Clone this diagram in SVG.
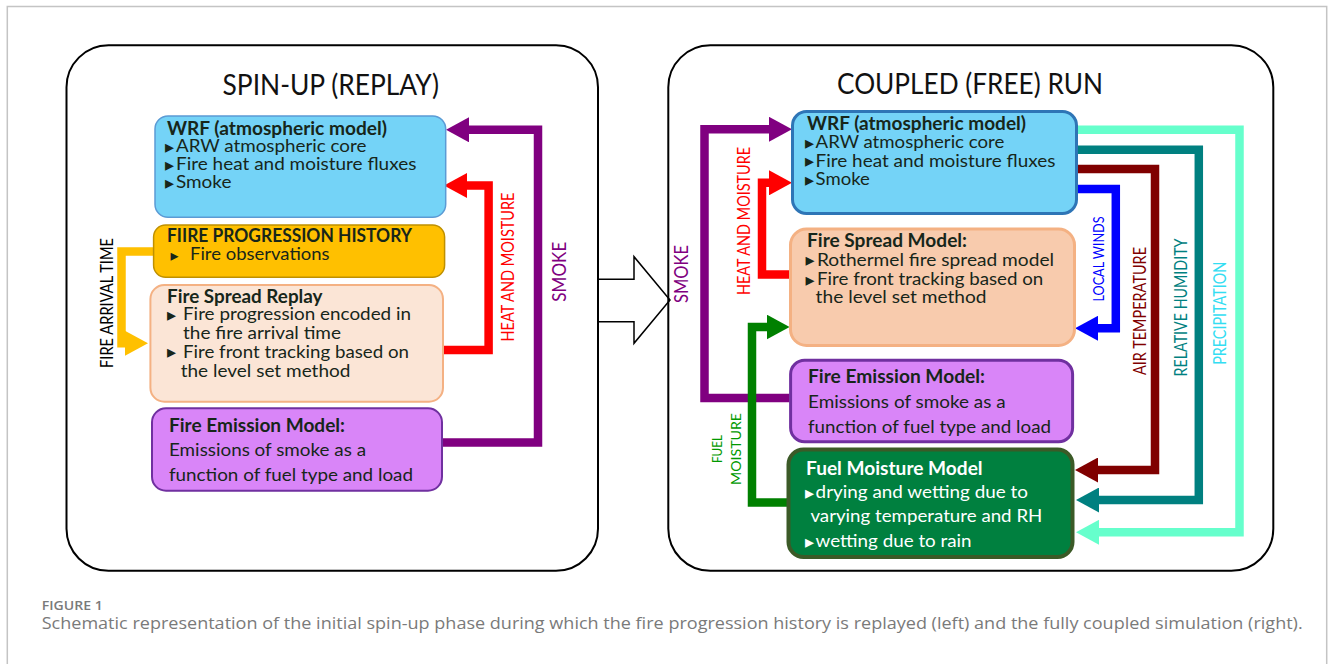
<svg xmlns="http://www.w3.org/2000/svg" width="1333" height="664" viewBox="0 0 1333 664">
<style>
.t{font-family:Lato,'Open Sans',sans-serif;font-size:18px;fill:#17261a}
.b{font-weight:700}
.w{fill:#ffffff}
.bul{font-family:'DejaVu Sans',sans-serif;font-size:18px;fill:#17261a}
.bulw{font-family:'DejaVu Sans',sans-serif;font-size:18px;fill:#ffffff}
.ttl{font-family:Lato,'Open Sans',sans-serif;font-size:28px;fill:#111111}
.lbl{font-family:Lato,'Open Sans',sans-serif;font-size:17px;text-anchor:middle}
.panel{fill:none;stroke:#000000;stroke-width:2}
.conn path{fill:none;stroke-width:8.5;stroke-linejoin:miter;stroke-linecap:butt}
.cap{font-family:'Open Sans','Liberation Sans',sans-serif;fill:#7a7a7a}
</style>
<defs>
<marker id="hY" markerUnits="userSpaceOnUse" markerWidth="23" markerHeight="25" viewBox="0 0 23 25" refX="2" refY="12.5" orient="auto"><path d="M0,0 L23,12.5 L0,25 z" fill="#FFC000"/></marker>
<marker id="hR" markerUnits="userSpaceOnUse" markerWidth="23" markerHeight="25" viewBox="0 0 23 25" refX="2" refY="12.5" orient="auto"><path d="M0,0 L23,12.5 L0,25 z" fill="#FF0000"/></marker>
<marker id="hP" markerUnits="userSpaceOnUse" markerWidth="23" markerHeight="25" viewBox="0 0 23 25" refX="2" refY="12.5" orient="auto"><path d="M0,0 L23,12.5 L0,25 z" fill="#800080"/></marker>
<marker id="hG" markerUnits="userSpaceOnUse" markerWidth="23" markerHeight="25" viewBox="0 0 23 25" refX="2" refY="12.5" orient="auto"><path d="M0,0 L23,12.5 L0,25 z" fill="#008000"/></marker>
<marker id="hB" markerUnits="userSpaceOnUse" markerWidth="23" markerHeight="25" viewBox="0 0 23 25" refX="2" refY="12.5" orient="auto"><path d="M0,0 L23,12.5 L0,25 z" fill="#0000FF"/></marker>
<marker id="hM" markerUnits="userSpaceOnUse" markerWidth="23" markerHeight="25" viewBox="0 0 23 25" refX="2" refY="12.5" orient="auto"><path d="M0,0 L23,12.5 L0,25 z" fill="#800000"/></marker>
<marker id="hT" markerUnits="userSpaceOnUse" markerWidth="23" markerHeight="25" viewBox="0 0 23 25" refX="2" refY="12.5" orient="auto"><path d="M0,0 L23,12.5 L0,25 z" fill="#008080"/></marker>
<marker id="hA" markerUnits="userSpaceOnUse" markerWidth="23" markerHeight="25" viewBox="0 0 23 25" refX="2" refY="12.5" orient="auto"><path d="M0,0 L23,12.5 L0,25 z" fill="#66FFCC"/></marker>
</defs>
<rect width="1333" height="664" fill="#ffffff"/>
<path d="M7.3,664 V6.5 H1326.7 V664" fill="none" stroke="#c4c4c4" stroke-width="1.5"/>

<g id="transition-arrow">
<path d="M598,279.3 H634 V256.7 L670,300 L634,343.3 V321.7 H598" fill="#ffffff" stroke="#000000" stroke-width="1.5" stroke-linejoin="miter"/>
</g>

<g id="panel-spinup">
<rect class="panel" x="66.5" y="45.3" width="531.5" height="525.5" rx="42"/>
<text class="ttl" x="222.5" y="94.5" textLength="216.5" lengthAdjust="spacingAndGlyphs">SPIN-UP (REPLAY)</text>
</g>
<g id="panel-coupled">
<rect class="panel" x="668.3" y="45.3" width="605" height="525.5" rx="42"/>
<text class="ttl" x="837" y="93.8" textLength="266" lengthAdjust="spacingAndGlyphs">COUPLED (FREE) RUN</text>
</g>

<g class="conn" id="connectors">
<path d="M154,251.5 H121.5 V343.3 H127" stroke="#FFC000" stroke-width="8" marker-end="url(#hY)"/>
<path d="M443,350 H488.6 V185.5 H465" stroke="#FF0000" marker-end="url(#hR)"/>
<path d="M442,442.5 H538 V129.8 H467" stroke="#800080" marker-end="url(#hP)"/>
<path d="M789.6,398 H704.5 V129.3 H771" stroke="#800080" marker-end="url(#hP)"/>
<path d="M789.6,274.5 H762 V182.8 H771" stroke="#FF0000" marker-end="url(#hR)"/>
<path d="M787.4,502.5 H752 V327 H768.6" stroke="#008000" marker-end="url(#hG)"/>
<path d="M1077,189 H1115.8 V328.3 H1096" stroke="#0000FF" marker-end="url(#hB)"/>
<path d="M1077,169 H1155 V470 H1096" stroke="#800000" marker-end="url(#hM)"/>
<path d="M1077,149.7 H1198.8 V500 H1097" stroke="#008080" marker-end="url(#hT)"/>
<path d="M1077,129.8 H1239.5 V532.3 H1097" stroke="#66FFCC" marker-end="url(#hA)"/>
</g>

<g id="connector-labels">
<text class="lbl" transform="translate(113,303) rotate(-90)" fill="#000000" textLength="130" lengthAdjust="spacingAndGlyphs">FIRE ARRIVAL TIME</text>
<text class="lbl" transform="translate(514.2,267) rotate(-90)" fill="#FF0000" textLength="149" lengthAdjust="spacingAndGlyphs">HEAT AND MOISTURE</text>
<text class="lbl" transform="translate(566,271.7) rotate(-90)" fill="#800080" style="font-size:20px" textLength="60" lengthAdjust="spacingAndGlyphs">SMOKE</text>
<text class="lbl" transform="translate(687.8,274) rotate(-90)" fill="#800080" style="font-size:19px" textLength="58" lengthAdjust="spacingAndGlyphs">SMOKE</text>
<text class="lbl" transform="translate(749.5,221) rotate(-90)" fill="#FF0000" textLength="148" lengthAdjust="spacingAndGlyphs">HEAT AND MOISTURE</text>
<text class="lbl" transform="translate(1104,259) rotate(-90)" fill="#0000FF" style="font-size:15px" textLength="85" lengthAdjust="spacingAndGlyphs">LOCAL WINDS</text>
<text class="lbl" transform="translate(1146.4,311) rotate(-90)" fill="#800000" textLength="128" lengthAdjust="spacingAndGlyphs">AIR TEMPERATURE</text>
<text class="lbl" transform="translate(1186.7,307.5) rotate(-90)" fill="#008080" textLength="138" lengthAdjust="spacingAndGlyphs">RELATIVE HUMIDITY</text>
<text class="lbl" transform="translate(1225.5,313.3) rotate(-90)" fill="#33DDF2" textLength="103" lengthAdjust="spacingAndGlyphs">PRECIPITATION</text>
<text class="lbl" transform="translate(721.8,449) rotate(-90)" fill="#009900" style="font-size:14px" textLength="28" lengthAdjust="spacingAndGlyphs">FUEL</text>
<text class="lbl" transform="translate(741,449) rotate(-90)" fill="#009900" style="font-size:14px" textLength="72" lengthAdjust="spacingAndGlyphs">MOISTURE</text>
</g>

<g id="wrf-left">
<rect x="155" y="116" width="290.7" height="101.3" rx="13" fill="#74D3F7" stroke="#5B9BD5" stroke-width="1.5"/>
<text class="t b" x="167" y="135" textLength="220" lengthAdjust="spacingAndGlyphs">WRF (atmospheric model)</text>
<text class="bul" x="165" y="152.5">▸</text><text class="t" x="176" y="152" textLength="190.4" lengthAdjust="spacingAndGlyphs">ARW atmospheric core</text>
<text class="bul" x="165" y="170.5">▸</text><text class="t" x="176" y="170" textLength="240.4" lengthAdjust="spacingAndGlyphs">Fire heat and moisture fluxes</text>
<text class="bul" x="165" y="188.5">▸</text><text class="t" x="176" y="188" textLength="55.4" lengthAdjust="spacingAndGlyphs">Smoke</text>
</g>

<g id="fire-progression-history">
<rect x="153.6" y="225" width="291" height="52.3" rx="12" fill="#FFC000" stroke="#BF9000" stroke-width="1.5"/>
<text class="t b" x="167" y="241.7" textLength="245" lengthAdjust="spacingAndGlyphs">FIIRE PROGRESSION HISTORY</text>
<text class="bul" x="170.5" y="260.5" style="font-size:16px">▸</text><text class="t" x="190" y="260" textLength="139.6" lengthAdjust="spacingAndGlyphs">Fire observations</text>
</g>

<g id="fire-spread-replay">
<rect x="150.4" y="285" width="292.6" height="116.7" rx="14" fill="#FBE5D6" stroke="#F4B183" stroke-width="2"/>
<text class="t b" x="167" y="303.3" textLength="155.5" lengthAdjust="spacingAndGlyphs">Fire Spread Replay</text>
<text class="bul" x="167" y="320.5">▸</text><text class="t" x="183" y="320" textLength="228" lengthAdjust="spacingAndGlyphs">Fire progression encoded in</text>
<text class="t" x="183" y="339.3" textLength="158" lengthAdjust="spacingAndGlyphs">the fire arrival time</text>
<text class="bul" x="167" y="358.2">▸</text><text class="t" x="183" y="357.7" textLength="226" lengthAdjust="spacingAndGlyphs">Fire front tracking based on</text>
<text class="t" x="180.7" y="376.7" textLength="169.7" lengthAdjust="spacingAndGlyphs">the level set method</text>
</g>

<g id="fire-emission-left">
<rect x="152" y="408.3" width="290" height="82.4" rx="14" fill="#D985F8" stroke="#7030A0" stroke-width="2"/>
<text class="t b" x="169" y="431.7" textLength="176" lengthAdjust="spacingAndGlyphs">Fire Emission Model:</text>
<text class="t" x="169" y="456" textLength="197" lengthAdjust="spacingAndGlyphs">Emissions of smoke as a</text>
<text class="t" x="169" y="480.7" textLength="244" lengthAdjust="spacingAndGlyphs">function of fuel type and load</text>
</g>

<g id="wrf-right">
<rect x="792.5" y="111.5" width="284" height="102" rx="14" fill="#74D3F7" stroke="#2E75B6" stroke-width="3"/>
<text class="t b" x="807" y="130" textLength="219" lengthAdjust="spacingAndGlyphs">WRF (atmospheric model)</text>
<text class="bul" x="805" y="148.8">▸</text><text class="t" x="815.6" y="148.3" textLength="188.7" lengthAdjust="spacingAndGlyphs">ARW atmospheric core</text>
<text class="bul" x="805" y="167.2">▸</text><text class="t" x="815.6" y="166.7" textLength="239.8" lengthAdjust="spacingAndGlyphs">Fire heat and moisture fluxes</text>
<text class="bul" x="805" y="185.5">▸</text><text class="t" x="815.6" y="185" textLength="54.2" lengthAdjust="spacingAndGlyphs">Smoke</text>
</g>

<g id="fire-spread-model">
<rect x="790.5" y="229" width="284" height="116.5" rx="16" fill="#F8CBAD" stroke="#F4B183" stroke-width="3"/>
<text class="t b" x="807" y="246.7" textLength="160" lengthAdjust="spacingAndGlyphs">Fire Spread Model:</text>
<text class="bul" x="805.5" y="266">▸</text><text class="t" x="817" y="265.5" textLength="237" lengthAdjust="spacingAndGlyphs">Rothermel fire spread model</text>
<text class="bul" x="805.5" y="285.5">▸</text><text class="t" x="817" y="285" textLength="226.3" lengthAdjust="spacingAndGlyphs">Fire front tracking based on</text>
<text class="t" x="815.6" y="303.3" textLength="171" lengthAdjust="spacingAndGlyphs">the level set method</text>
</g>

<g id="fire-emission-right">
<rect x="790.6" y="360.3" width="282" height="81.4" rx="14" fill="#D985F8" stroke="#7030A0" stroke-width="3"/>
<text class="t b" x="808" y="383.3" textLength="177" lengthAdjust="spacingAndGlyphs">Fire Emission Model:</text>
<text class="t" x="808" y="408.3" textLength="197.6" lengthAdjust="spacingAndGlyphs">Emissions of smoke as a</text>
<text class="t" x="808" y="432.7" textLength="243" lengthAdjust="spacingAndGlyphs">function of fuel type and load</text>
</g>

<g id="fuel-moisture-model">
<rect x="788.5" y="449.5" width="284" height="107.5" rx="15" fill="#00803F" stroke="#3B5A27" stroke-width="4"/>
<text class="t b w" x="806" y="475" textLength="176.6" lengthAdjust="spacingAndGlyphs">Fuel Moisture Model</text>
<text class="bulw" x="805" y="498.8">▸</text><text class="t w" x="815.6" y="498.3" textLength="212.4" lengthAdjust="spacingAndGlyphs">drying and wetting due to</text>
<text class="t w" x="810.4" y="522" textLength="232" lengthAdjust="spacingAndGlyphs">varying temperature and RH</text>
<text class="bulw" x="805" y="547.8">▸</text><text class="t w" x="815.6" y="547.3" textLength="156" lengthAdjust="spacingAndGlyphs">wetting due to rain</text>
</g>

<g id="caption">
<text class="cap" x="41.7" y="610" style="font-size:12px;font-weight:600" textLength="61" lengthAdjust="spacingAndGlyphs">FIGURE 1</text>
<text class="cap" x="41.7" y="629" style="font-size:17px" textLength="1261" lengthAdjust="spacingAndGlyphs">Schematic representation of the initial spin-up phase during which the fire progression history is replayed (left) and the fully coupled simulation (right).</text>
</g>
</svg>
